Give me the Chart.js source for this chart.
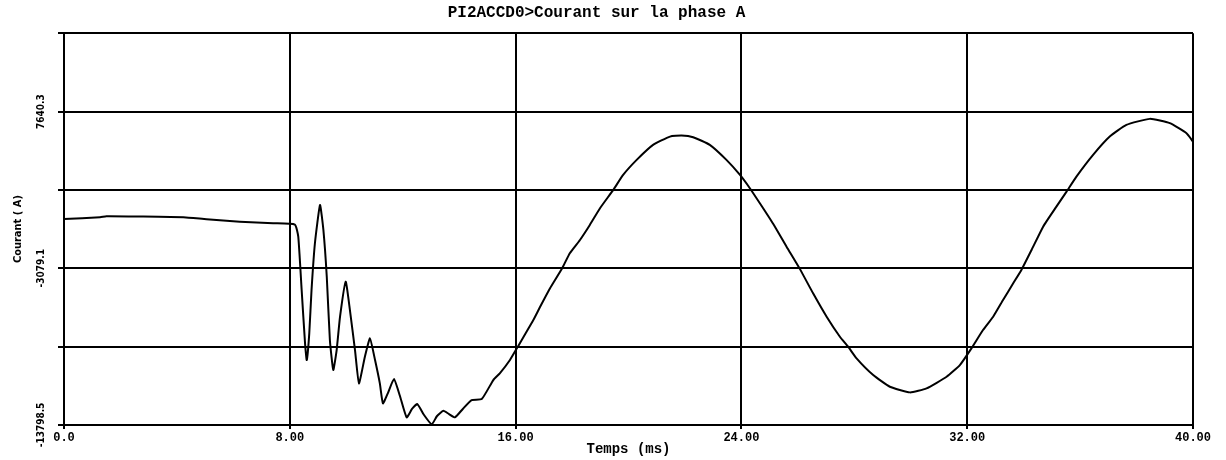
<!DOCTYPE html>
<html lang="fr">
<head>
    <meta charset="UTF-8">
    <title>Courant sur la phase A</title>
    <script src="https://cdn.jsdelivr.net/npm/chart.js"></script>
    <style>
        body { margin: 0; background: #fff; }
        #wrap { width: 1226px; height: 460px; }
    </style>
</head>
<body>
    <div id="wrap"><canvas id="courantChart"></canvas></div>

    <script>
        // temps (ms) et courant (A)
        const timeMs = [
            0.0, 1.28, 1.5, 2.69, 4.23, 5.05, 6.23, 7.41, 8.18,
            8.30, 8.42, 8.54, 8.60, 8.69, 8.77, 8.89, 9.07, 9.19, 9.31, 9.42, 9.54, 9.66, 9.78, 9.98,
            10.13, 10.31, 10.45, 10.66, 10.84, 11.02, 11.19, 11.30, 11.48, 11.69, 11.90, 12.14, 12.33,
            12.52, 12.75, 13.03, 13.21, 13.44, 13.64, 13.85, 14.13, 14.44, 14.80, 15.21, 15.44, 15.80,
            16.08, 16.62, 16.86, 17.22, 17.65, 17.92, 18.28, 18.63, 18.99, 19.46, 19.81, 20.29, 20.87,
            21.47, 21.88, 22.29, 22.88, 23.47, 23.95, 24.30, 24.66, 25.13, 25.60, 26.07, 26.54, 27.02,
            27.49, 27.78, 28.08, 28.67, 29.26, 29.97, 30.56, 31.27, 31.74, 32.15, 32.56, 32.92, 33.27,
            33.63, 33.92, 34.28, 34.69, 35.16, 35.52, 35.87, 36.46, 37.05, 37.64, 38.47, 39.18, 39.77, 40.0
        ];
        const currentA = [
            295, 412, 480, 460, 412, 275, 111, 1, -90,
            -916, -4565, -8213, -9356, -7528, -4565, -1368, 1254, -457, -3654, -7987, -10040, -8672, -6392, -3997,
            -5934, -8672, -10951, -9130, -7871, -9356, -10951, -12320, -11600, -10657, -11800, -13278, -12700,
            -12368, -13100, -13758, -13200, -12827, -13050, -13278, -12700, -12094, -12026, -10725, -10266, -9350,
            -8439, -6650, -5750, -4448, -3079, -2052, -1142, -115, 1028, 2281, 3307, 4334, 5361,
            5929, 5997, 5888, 5361, 4334, 3307, 2397, 1350, -50, -1601, -3120, -4791, -6392,
            -7761, -8439, -9240, -10383, -11184, -11567, -11293, -10499, -9698, -8555, -7303, -6392, -5249,
            -4106, -3196, -1827, -232, 1137, 2164, 3191, 4676, 5929, 6730, 7140, 6846, 6161, 5587
        ];

        const xTickValues = [0, 8, 16, 24, 32, 40];
        const xTickLabels = ['0.0', '8.00', '16.00', '24.00', '32.00', '40.00'];
        const yTickValues = [-13798.5, -8438.8, -3079.1, 2280.6, 7640.3, 13000];
        const yTickLabels = ['-13798.5', '', '-3079.1', '', '7640.3', ''];

        const points = timeMs.map((t, i) => ({ x: t, y: currentA[i] }));

        const ctx = document.getElementById('courantChart').getContext('2d');
        const courantChart = new Chart(ctx, {
            type: 'line',
            data: {
                datasets: [{
                    label: 'Courant phase A',
                    data: points,
                    borderColor: '#000',
                    borderWidth: 2,
                    pointRadius: 0,
                    tension: 0.15,
                    fill: false
                }]
            },
            options: {
                responsive: true,
                maintainAspectRatio: false,
                animation: false,
                layout: { padding: { left: 0, right: 33, top: 0, bottom: 0 } },
                plugins: {
                    legend: { display: false },
                    tooltip: { enabled: false },
                    title: {
                        display: true,
                        text: 'PI2ACCD0>Courant sur la phase A',
                        color: '#000',
                        font: { family: "'Liberation Mono', monospace", size: 16, weight: 'bold' },
                        padding: { top: 3, bottom: 11 }
                    }
                },
                scales: {
                    x: {
                        type: 'linear',
                        min: 0,
                        max: 40,
                        afterBuildTicks: (scale) => { scale.ticks = xTickValues.map(v => ({ value: v })); },
                        afterFit: (scale) => { scale.height = 35; },
                        ticks: {
                            autoSkip: false,
                            maxRotation: 0,
                            padding: 2,
                            color: '#000',
                            font: { family: "'Liberation Mono', monospace", size: 12, weight: 'bold' },
                            callback: (value, index) => xTickLabels[index]
                        },
                        grid: { color: '#000', lineWidth: 2, tickLength: 4 },
                        border: { color: '#000', width: 2 },
                        title: {
                            display: true,
                            text: 'Temps (ms)',
                            color: '#000',
                            font: { family: "'Liberation Mono', monospace", size: 14, weight: 'bold' },
                            padding: { top: 0, bottom: 2 }
                        }
                    },
                    y: {
                        type: 'linear',
                        min: -13798.5,
                        max: 13000,
                        afterBuildTicks: (scale) => { scale.ticks = yTickValues.map(v => ({ value: v })); },
                        afterFit: (scale) => { scale.width = 64; },
                        ticks: {
                            autoSkip: false,
                            minRotation: 90,
                            maxRotation: 90,
                            crossAlign: 'center',
                            padding: -6,
                            color: '#000',
                            font: { family: "'DejaVu Sans Condensed', 'DejaVu Sans', sans-serif", size: 10, weight: 'bold' },
                            callback: (value, index) => yTickLabels[index]
                        },
                        grid: { color: '#000', lineWidth: 2, tickLength: 6 },
                        border: { color: '#000', width: 2 },
                        title: {
                            display: true,
                            text: 'Courant ( A)',
                            color: '#000',
                            font: { family: "'DejaVu Sans Condensed', 'DejaVu Sans', sans-serif", size: 11, weight: 'bold' },
                            padding: { top: 12, bottom: 0 }
                        }
                    }
                }
            }
        });
    </script>
</body>
</html>
